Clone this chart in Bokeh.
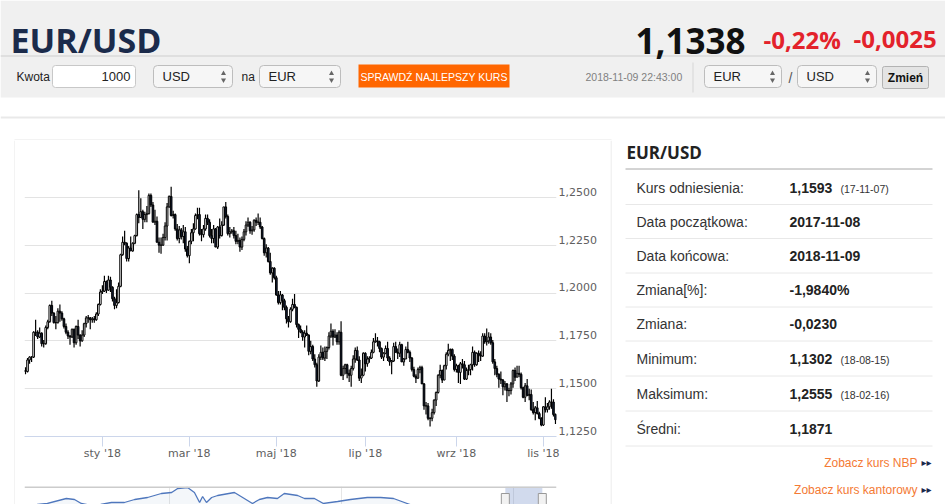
import numpy as np
import pandas as pd
from bokeh.plotting import figure
from bokeh.models import (Range1d, FixedTicker, CustomJSTickFormatter, Span,
                          ColumnDataSource, Grid)
from bokeh.layouts import column, row
from bokeh.core.properties import value
from bokeh.embed import file_html
from bokeh.resources import INLINE

# ---------------- header data ----------------
pair = "EUR/USD"
last_rate = "1,1338"
change_pct = "-0,22%"
change_abs = "-0,0025"
timestamp = "2018-11-09 22:43:00"
amount = "1000"
cur_from, cur_to = "USD", "EUR"
pair_a, pair_b = "EUR", "USD"

# ---------------- daily OHLC (one line per week), 2017-11-08 .. 2018-11-09 -------------
open_ = [
    1.1595, 1.1590, 1.1650,
    1.1665, 1.1665, 1.1795, 1.1795, 1.1770,
    1.1790, 1.1735, 1.1735, 1.1820, 1.1850,
    1.1935, 1.1895, 1.1845, 1.1845, 1.1905,
    1.1895, 1.1865, 1.1825, 1.1795, 1.1775,
    1.1770, 1.1810, 1.1740, 1.1825, 1.1780,
    1.1750, 1.1780, 1.1840, 1.1870, 1.1870,
    1.1860, 1.1865, 1.1860, 1.1890, 1.1940,
    1.2005, 1.2010, 1.2060, 1.2015, 1.2068,
    1.2030, 1.1970, 1.1935, 1.1950, 1.2035,
    1.2200, 1.2265, 1.2260, 1.2180, 1.2235,
    1.2220, 1.2260, 1.2300, 1.2410, 1.2395,
    1.2425, 1.2385, 1.2410, 1.2415, 1.2510,
    1.2460, 1.2370, 1.2375, 1.2265, 1.2250,
    1.2250, 1.2290, 1.2350, 1.2450, 1.2505,
    1.2405, 1.2410, 1.2335, 1.2285, 1.2330,
    1.2295, 1.2320, 1.2230, 1.2195, 1.2270,
    1.2315, 1.2335, 1.2405, 1.2410, 1.2310,
    1.2305, 1.2335, 1.2390, 1.2370, 1.2300,
    1.2285, 1.2335, 1.2240, 1.2345, 1.2300,
    1.2355, 1.2450, 1.2400, 1.2310, 1.2320,
    1.2325, 1.2300, 1.2270, 1.2275, 1.2240,
    1.2280, 1.2320, 1.2355, 1.2370, 1.2325,
    1.2330, 1.2380, 1.2370, 1.2370, 1.2345,
    1.2285, 1.2210, 1.2235, 1.2165, 1.2105,
    1.2130, 1.2080, 1.1990, 1.1950, 1.1990,
    1.1960, 1.1925, 1.1865, 1.1850, 1.1915,
    1.1940, 1.1925, 1.1835, 1.1810, 1.1795,
    1.1770, 1.1790, 1.1780, 1.1695, 1.1720,
    1.1655, 1.1625, 1.1540, 1.1665, 1.1690,
    1.1660, 1.1695, 1.1715, 1.1775, 1.1800,
    1.1770, 1.1780, 1.1745, 1.1795, 1.1570,
    1.1605, 1.1625, 1.1580, 1.1570, 1.1605,
    1.1655, 1.1700, 1.1650, 1.1555, 1.1570,
    1.1685, 1.1630, 1.1655, 1.1660, 1.1690,
    1.1745, 1.1750, 1.1745, 1.1710, 1.1665,
    1.1685, 1.1710, 1.1660, 1.1640, 1.1645,
    1.1720, 1.1690, 1.1685, 1.1730, 1.1640,
    1.1655, 1.1705, 1.1690, 1.1660, 1.1600,
    1.1565, 1.1555, 1.1600, 1.1610, 1.1525,
    1.1410, 1.1410, 1.1345, 1.1345, 1.1375,
    1.1440, 1.1480, 1.1570, 1.1595, 1.1545,
    1.1620, 1.1680, 1.1700, 1.1705, 1.1670,
    1.1600, 1.1620, 1.1585, 1.1630, 1.1625,
    1.1550, 1.1595, 1.1600, 1.1625, 1.1690,
    1.1625, 1.1685, 1.1675, 1.1670, 1.1775,
    1.1745, 1.1750, 1.1770, 1.1740, 1.1640,
    1.1605, 1.1575, 1.1550, 1.1545, 1.1510,
    1.1525, 1.1490, 1.1490, 1.1525, 1.1595,
    1.1560, 1.1580, 1.1575, 1.1505, 1.1455,
    1.1515, 1.1465, 1.1470, 1.1390, 1.1375,
    1.1400, 1.1370, 1.1345, 1.1310, 1.1405,
    1.1390, 1.1405, 1.1430, 1.1430, 1.1365,
]
high = [
    1.1612, 1.1660, 1.1670,
    1.1670, 1.1800, 1.1860, 1.1805, 1.1820,
    1.1795, 1.1755, 1.1830, 1.1860, 1.1940,
    1.1960, 1.1900, 1.1880, 1.1920, 1.1940,
    1.1905, 1.1870, 1.1840, 1.1805, 1.1780,
    1.1815, 1.1815, 1.1830, 1.1860, 1.1785,
    1.1805, 1.1845, 1.1880, 1.1885, 1.1875,
    1.1875, 1.1880, 1.1900, 1.1945, 1.2020,
    1.2040, 1.2090, 1.2065, 1.2090, 1.2085,
    1.2035, 1.1980, 1.2020, 1.2055, 1.2205,
    1.2295, 1.2325, 1.2265, 1.2245, 1.2295,
    1.2265, 1.2305, 1.2415, 1.2537, 1.2495,
    1.2435, 1.2425, 1.2455, 1.2520, 1.2520,
    1.2475, 1.2435, 1.2400, 1.2290, 1.2290,
    1.2310, 1.2370, 1.2470, 1.2510, 1.2555,
    1.2430, 1.2415, 1.2360, 1.2350, 1.2340,
    1.2355, 1.2345, 1.2245, 1.2275, 1.2335,
    1.2365, 1.2415, 1.2445, 1.2445, 1.2335,
    1.2355, 1.2410, 1.2410, 1.2385, 1.2335,
    1.2355, 1.2340, 1.2350, 1.2390, 1.2375,
    1.2450, 1.2475, 1.2410, 1.2345, 1.2335,
    1.2345, 1.2325, 1.2310, 1.2290, 1.2295,
    1.2335, 1.2375, 1.2395, 1.2375, 1.2350,
    1.2385, 1.2395, 1.2415, 1.2395, 1.2350,
    1.2290, 1.2255, 1.2240, 1.2210, 1.2135,
    1.2135, 1.2090, 1.2010, 1.2010, 1.1995,
    1.1970, 1.1935, 1.1880, 1.1925, 1.1970,
    1.1995, 1.1930, 1.1840, 1.1830, 1.1805,
    1.1805, 1.1830, 1.1785, 1.1750, 1.1730,
    1.1680, 1.1635, 1.1680, 1.1725, 1.1715,
    1.1720, 1.1720, 1.1795, 1.1840, 1.1810,
    1.1810, 1.1795, 1.1805, 1.1852, 1.1620,
    1.1630, 1.1630, 1.1600, 1.1620, 1.1675,
    1.1715, 1.1720, 1.1670, 1.1605, 1.1690,
    1.1690, 1.1670, 1.1670, 1.1705, 1.1765,
    1.1790, 1.1770, 1.1750, 1.1715, 1.1690,
    1.1725, 1.1745, 1.1670, 1.1650, 1.1740,
    1.1745, 1.1710, 1.1745, 1.1735, 1.1660,
    1.1720, 1.1745, 1.1700, 1.1665, 1.1615,
    1.1575, 1.1610, 1.1620, 1.1620, 1.1530,
    1.1430, 1.1425, 1.1350, 1.1395, 1.1445,
    1.1485, 1.1575, 1.1625, 1.1600, 1.1625,
    1.1690, 1.1735, 1.1710, 1.1710, 1.1680,
    1.1630, 1.1625, 1.1640, 1.1655, 1.1645,
    1.1610, 1.1625, 1.1630, 1.1720, 1.1700,
    1.1690, 1.1700, 1.1695, 1.1790, 1.1790,
    1.1815, 1.1795, 1.1790, 1.1755, 1.1655,
    1.1620, 1.1580, 1.1590, 1.1550, 1.1540,
    1.1530, 1.1505, 1.1535, 1.1600, 1.1610,
    1.1620, 1.1620, 1.1585, 1.1510, 1.1530,
    1.1550, 1.1500, 1.1495, 1.1430, 1.1410,
    1.1435, 1.1380, 1.1350, 1.1410, 1.1455,
    1.1425, 1.1440, 1.1500, 1.1445, 1.1370,
]
low = [
    1.1575, 1.1585, 1.1630,
    1.1640, 1.1660, 1.1775, 1.1760, 1.1765,
    1.1720, 1.1715, 1.1730, 1.1810, 1.1845,
    1.1880, 1.1840, 1.1810, 1.1840, 1.1850,
    1.1855, 1.1815, 1.1785, 1.1760, 1.1730,
    1.1765, 1.1715, 1.1730, 1.1760, 1.1720,
    1.1745, 1.1770, 1.1820, 1.1845, 1.1810,
    1.1845, 1.1845, 1.1855, 1.1880, 1.1935,
    1.1995, 1.2005, 1.2000, 1.2010, 1.2005,
    1.1955, 1.1915, 1.1920, 1.1945, 1.2030,
    1.2195, 1.2250, 1.2165, 1.2165, 1.2220,
    1.2215, 1.2255, 1.2295, 1.2365, 1.2395,
    1.2335, 1.2370, 1.2370, 1.2410, 1.2450,
    1.2370, 1.2355, 1.2265, 1.2210, 1.2205,
    1.2245, 1.2275, 1.2275, 1.2445, 1.2400,
    1.2390, 1.2325, 1.2275, 1.2260, 1.2280,
    1.2260, 1.2215, 1.2185, 1.2155, 1.2255,
    1.2270, 1.2330, 1.2385, 1.2300, 1.2270,
    1.2290, 1.2325, 1.2355, 1.2290, 1.2260,
    1.2260, 1.2240, 1.2230, 1.2285, 1.2295,
    1.2350, 1.2390, 1.2300, 1.2290, 1.2310,
    1.2285, 1.2255, 1.2255, 1.2215, 1.2225,
    1.2270, 1.2300, 1.2345, 1.2310, 1.2305,
    1.2320, 1.2350, 1.2355, 1.2335, 1.2280,
    1.2195, 1.2185, 1.2160, 1.2095, 1.2055,
    1.2070, 1.1985, 1.1940, 1.1940, 1.1910,
    1.1910, 1.1840, 1.1820, 1.1845, 1.1905,
    1.1920, 1.1820, 1.1765, 1.1790, 1.1750,
    1.1715, 1.1775, 1.1675, 1.1680, 1.1645,
    1.1610, 1.1510, 1.1535, 1.1650, 1.1650,
    1.1645, 1.1655, 1.1705, 1.1765, 1.1725,
    1.1765, 1.1730, 1.1730, 1.1565, 1.1545,
    1.1575, 1.1555, 1.1535, 1.1510, 1.1595,
    1.1635, 1.1645, 1.1540, 1.1530, 1.1565,
    1.1590, 1.1615, 1.1635, 1.1655, 1.1685,
    1.1740, 1.1720, 1.1690, 1.1655, 1.1645,
    1.1680, 1.1645, 1.1620, 1.1575, 1.1640,
    1.1690, 1.1655, 1.1665, 1.1640, 1.1620,
    1.1655, 1.1685, 1.1640, 1.1590, 1.1560,
    1.1530, 1.1550, 1.1580, 1.1525, 1.1390,
    1.1365, 1.1335, 1.1302, 1.1330, 1.1365,
    1.1410, 1.1475, 1.1555, 1.1530, 1.1545,
    1.1600, 1.1670, 1.1645, 1.1650, 1.1590,
    1.1585, 1.1530, 1.1525, 1.1605, 1.1545,
    1.1545, 1.1570, 1.1570, 1.1595, 1.1615,
    1.1620, 1.1640, 1.1645, 1.1665, 1.1735,
    1.1725, 1.1735, 1.1730, 1.1630, 1.1570,
    1.1560, 1.1505, 1.1525, 1.1465, 1.1490,
    1.1430, 1.1460, 1.1470, 1.1505, 1.1540,
    1.1560, 1.1560, 1.1495, 1.1450, 1.1430,
    1.1460, 1.1440, 1.1385, 1.1365, 1.1335,
    1.1365, 1.1340, 1.1303, 1.1305, 1.1375,
    1.1375, 1.1390, 1.1395, 1.1355, 1.1315,
]
close = [
    1.1590, 1.1650, 1.1665,
    1.1665, 1.1795, 1.1795, 1.1770, 1.1790,
    1.1735, 1.1735, 1.1820, 1.1850, 1.1935,
    1.1895, 1.1845, 1.1845, 1.1905, 1.1895,
    1.1865, 1.1825, 1.1795, 1.1775, 1.1770,
    1.1810, 1.1740, 1.1825, 1.1780, 1.1750,
    1.1780, 1.1840, 1.1870, 1.1870, 1.1860,
    1.1865, 1.1860, 1.1890, 1.1940, 1.2005,
    1.2010, 1.2060, 1.2015, 1.2068, 1.2030,
    1.1970, 1.1935, 1.1950, 1.2035, 1.2200,
    1.2265, 1.2260, 1.2180, 1.2235, 1.2220,
    1.2260, 1.2300, 1.2410, 1.2395, 1.2425,
    1.2385, 1.2410, 1.2415, 1.2510, 1.2460,
    1.2370, 1.2375, 1.2265, 1.2250, 1.2250,
    1.2290, 1.2350, 1.2450, 1.2505, 1.2405,
    1.2410, 1.2335, 1.2285, 1.2330, 1.2295,
    1.2320, 1.2230, 1.2195, 1.2270, 1.2315,
    1.2335, 1.2405, 1.2410, 1.2310, 1.2305,
    1.2335, 1.2390, 1.2370, 1.2300, 1.2285,
    1.2335, 1.2240, 1.2345, 1.2300, 1.2355,
    1.2450, 1.2400, 1.2310, 1.2320, 1.2325,
    1.2300, 1.2270, 1.2275, 1.2240, 1.2280,
    1.2320, 1.2355, 1.2370, 1.2325, 1.2330,
    1.2380, 1.2370, 1.2370, 1.2345, 1.2285,
    1.2210, 1.2235, 1.2165, 1.2105, 1.2130,
    1.2080, 1.1990, 1.1950, 1.1990, 1.1960,
    1.1925, 1.1865, 1.1850, 1.1915, 1.1940,
    1.1925, 1.1835, 1.1810, 1.1795, 1.1770,
    1.1790, 1.1780, 1.1695, 1.1720, 1.1655,
    1.1625, 1.1540, 1.1665, 1.1690, 1.1660,
    1.1695, 1.1715, 1.1775, 1.1800, 1.1770,
    1.1780, 1.1745, 1.1795, 1.1570, 1.1605,
    1.1625, 1.1580, 1.1570, 1.1605, 1.1655,
    1.1700, 1.1650, 1.1555, 1.1570, 1.1685,
    1.1630, 1.1655, 1.1660, 1.1690, 1.1745,
    1.1750, 1.1745, 1.1710, 1.1665, 1.1685,
    1.1710, 1.1660, 1.1640, 1.1645, 1.1720,
    1.1690, 1.1685, 1.1730, 1.1640, 1.1655,
    1.1705, 1.1690, 1.1660, 1.1600, 1.1565,
    1.1555, 1.1600, 1.1610, 1.1525, 1.1410,
    1.1410, 1.1345, 1.1345, 1.1375, 1.1440,
    1.1480, 1.1570, 1.1595, 1.1545, 1.1620,
    1.1680, 1.1700, 1.1705, 1.1670, 1.1600,
    1.1620, 1.1585, 1.1630, 1.1625, 1.1550,
    1.1595, 1.1600, 1.1625, 1.1690, 1.1625,
    1.1685, 1.1675, 1.1670, 1.1775, 1.1745,
    1.1750, 1.1770, 1.1740, 1.1640, 1.1605,
    1.1575, 1.1550, 1.1545, 1.1510, 1.1525,
    1.1490, 1.1490, 1.1525, 1.1595, 1.1560,
    1.1580, 1.1575, 1.1505, 1.1455, 1.1515,
    1.1465, 1.1470, 1.1390, 1.1375, 1.1400,
    1.1370, 1.1345, 1.1310, 1.1405, 1.1390,
    1.1405, 1.1430, 1.1430, 1.1365, 1.1338,
]

y_tick_values = [1.125, 1.150, 1.175, 1.200, 1.225, 1.250]
y_grid_values = [1.150, 1.175, 1.200, 1.225, 1.250, 1.275]
x_tick_months = ["2018-01", "2018-03", "2018-05", "2018-07", "2018-09", "2018-11"]
x_tick_labels = ["sty '18", "mar '18", "maj '18", "lip '18", "wrz '18", "lis '18"]

# ---------------- navigator (long history, only its upper strip is visible) -------------
nav_year = [2004.63, 2004.93, 2005.16, 2005.60, 2005.79, 2005.95, 2006.19, 2006.40, 2006.65,
            2006.95, 2007.19, 2007.49, 2007.81, 2008.05, 2008.19, 2008.42, 2008.58, 2008.70,
            2008.77, 2008.86, 2008.98, 2009.12, 2009.51, 2009.74, 2009.93, 2010.09, 2010.28,
            2010.51, 2010.67, 2010.98, 2011.14, 2011.37, 2011.58, 2011.91, 2012.21, 2012.60,
            2012.91, 2013.21, 2013.53, 2013.84, 2015.00, 2016.00, 2017.00]
nav_rate = [1.300, 1.348, 1.362, 1.432, 1.418, 1.362, 1.334, 1.348, 1.376,
            1.376, 1.418, 1.446, 1.502, 1.516, 1.572, 1.586, 1.516, 1.376,
            1.460, 1.376, 1.446, 1.474, 1.516, 1.432, 1.362, 1.418, 1.446,
            1.432, 1.502, 1.474, 1.432, 1.432, 1.362, 1.390, 1.418, 1.446,
            1.446, 1.432, 1.362, 1.292, 1.220, 1.250, 1.194]
nav_grid_years = [2008, 2012, 2016]
nav_window = [2015.81, 2016.67]

# ---------------- side panel data ----------------
stat_labels = ["Kurs odniesienia:", "Data początkowa:", "Data końcowa:", "Zmiana[%]:",
               "Zmiana:", "Minimum:", "Maksimum:", "Średni:"]
stat_values = ["1,1593", "2017-11-08", "2018-11-09", "-1,9840%", "-0,0230",
               "1,1302", "1,2555", "1,1871"]
stat_notes = ["(17-11-07)", "", "", "", "", "(18-08-15)", "(18-02-16)", ""]
links = ["Zobacz kurs NBP", "Zobacz kurs kantorowy"]

ARIAL = "Liberation Sans"
OPEN = "Open Sans"


def canvas(x0, x1, y0, y1, bg="white"):
    p = figure(width=x1 - x0, height=y1 - y0, x_range=Range1d(x0, x1), y_range=Range1d(y1, y0),
               output_backend="svg", toolbar_location=None, x_axis_location=None,
               y_axis_location=None, min_border=0)
    p.grid.visible = False
    p.outline_line_color = None
    p.background_fill_color = bg
    p.border_fill_color = bg
    return p


def txt(p, x, y, s, size, color="#333333", font=ARIAL, style="normal", align="left",
        baseline="middle"):
    p.text(x=[x], y=[y], text=[s], text_font=value(font), text_font_size=f"{size}px",
           text_font_style=style, text_color=color, text_align=align, text_baseline=baseline)


def select_box(p, x0, x1, label):
    p.quad(left=[x0], right=[x1], top=[65], bottom=[87], fill_color="#f6f6f6",
           line_color="#bdbdbd", border_radius=4)
    txt(p, x0 + 9, 76, label, 13, "#222222")
    p.scatter(x=[x1 - 9], y=[73], marker="triangle", size=5, fill_color="#666666", line_color=None)
    p.scatter(x=[x1 - 9], y=[79.5], marker="inverted_triangle", size=5, fill_color="#666666",
              line_color=None)


# ---------------- header ----------------
hdr = canvas(0, 945, 0, 140)
hdr.quad(left=[0], right=[945], top=[0], bottom=[97], fill_color="#f0f0f0", line_color=None)
hdr.segment(x0=[0], y0=[55.5], x1=[945], y1=[55.5], line_color="#dadada", line_width=1.5)
hdr.segment(x0=[0], y0=[117], x1=[945], y1=[117], line_color="#e9e9e9", line_width=2)
hdr.segment(x0=[14], y0=[139.5], x1=[611], y1=[139.5], line_color="#e6e6e6", line_width=1)
txt(hdr, 10, 39, pair, 34, "#1b2b4b", OPEN, "bold", baseline="alphabetic")
txt(hdr, 635, 40, last_rate, 35, "#111111", OPEN, "bold", baseline="alphabetic")
txt(hdr, 763, 39, change_pct, 24, "#e3222b", OPEN, "bold", baseline="alphabetic")
txt(hdr, 853, 39, change_abs, 24, "#e3222b", OPEN, "bold", baseline="alphabetic")

txt(hdr, 16, 76, "Kwota", 12, "#222222")
hdr.quad(left=[52], right=[135], top=[65], bottom=[87], fill_color="white",
         line_color="#c8c8c8", border_radius=3)
txt(hdr, 130, 76, amount, 13, "#222222", align="right")
select_box(hdr, 153, 232, cur_from)
txt(hdr, 241, 76, "na", 12, "#222222")
select_box(hdr, 259, 340, cur_to)
hdr.quad(left=[358], right=[509], top=[64], bottom=[87], fill_color="#ff6600", line_color=None)
txt(hdr, 433.5, 76, "SPRAWDŹ NAJLEPSZY KURS", 10.5, "white", align="center")
txt(hdr, 585, 76, timestamp, 10.5, "#808080")
hdr.segment(x0=[692.5], y0=[62], x1=[692.5], y1=[92], line_color="#d6d6d6")
select_box(hdr, 704, 781, pair_a)
txt(hdr, 790, 77, "/", 14, "#555555", align="center")
select_box(hdr, 797, 876, pair_b)
hdr.quad(left=[882], right=[928], top=[66], bottom=[88], fill_color="#e4e4e4",
         line_color="#b3b3b3", border_radius=2)
txt(hdr, 905, 77, "Zmień", 12, "#111111", style="bold", align="center")

# ---------------- left border strip ----------------
strip = canvas(0, 15, 140, 504)
strip.segment(x0=[14.5], y0=[140], x1=[14.5], y1=[504], line_color="#e6e6e6")

# ---------------- main candlestick chart ----------------
n = min(len(open_), len(high), len(low), len(close))
dates = pd.bdate_range("2017-11-08", "2018-11-09")[:n]
idx = np.arange(n)
o = np.array(open_[:n]); h = np.array(high[:n]); l = np.array(low[:n]); c = np.array(close[:n])
src = ColumnDataSource(dict(x=idx, o=o, h=h, l=l, c=c, top=np.maximum(o, c), bot=np.minimum(o, c),
                            fill=np.where(c >= o, "#ffffff", "#14213d")))

chart = figure(width=595, height=330, x_range=Range1d(-0.5, n - 0.5),
               y_range=Range1d(1.125, 1.275), output_backend="svg", toolbar_location=None,
               y_axis_location="right", min_border_left=9, min_border_right=54,
               min_border_top=9, min_border_bottom=34)
chart.outline_line_color = None
chart.background_fill_color = "white"
chart.border_fill_color = "white"
chart.xgrid.visible = False
chart.ygrid.ticker = FixedTicker(ticks=y_grid_values)
chart.ygrid.grid_line_color = "#e3e3e3"

LABEL_SHIFT = 0.0029  # labels sit just above their grid lines
ya = chart.yaxis[0]
ya.ticker = FixedTicker(ticks=[v + LABEL_SHIFT for v in y_tick_values])
ya.formatter = CustomJSTickFormatter(args=dict(off=LABEL_SHIFT),
                                     code="return (tick - off).toFixed(4).replace('.', ',');")
ya.axis_line_color = None
ya.major_tick_line_color = None
ya.minor_tick_line_color = None
ya.major_tick_in = 0
ya.major_tick_out = 0
ya.minor_tick_in = 0
ya.minor_tick_out = 0
ya.major_label_standoff = 2
ya.major_label_text_font = "DejaVu Sans"
ya.major_label_text_font_size = "11px"
ya.major_label_text_color = "#606060"

tick_idx = [int(np.argmax(dates.strftime("%Y-%m") == m)) for m in x_tick_months]
xa = chart.xaxis[0]
xa.ticker = FixedTicker(ticks=tick_idx)
xa.major_label_overrides = {i: lab for i, lab in zip(tick_idx, x_tick_labels)}
xa.axis_line_color = "#ccd6eb"
xa.major_tick_line_color = "#ccd6eb"
xa.major_tick_in = 0
xa.major_tick_out = 10
xa.minor_tick_line_color = None
xa.major_label_standoff = 0
xa.major_label_text_font = "DejaVu Sans"
xa.major_label_text_font_size = "11px"
xa.major_label_text_color = "#606060"

chart.segment(x0="x", y0="l", x1="x", y1="h", source=src, line_color="#000000", line_width=1.2)
chart.vbar(x="x", width=0.8, top="top", bottom="bot", fill_color="fill", line_color="#000000",
           line_width=1, source=src)

# ---------------- navigator ----------------
NAV_TOP, NAV_BOT = 1.600, 1.348
nav = figure(width=595, height=34, x_range=Range1d(2004.628, 2017.0),
             y_range=Range1d(NAV_BOT, NAV_TOP), output_backend="svg", toolbar_location=None,
             x_axis_location=None, y_axis_location=None, min_border_left=9,
             min_border_right=54, min_border_top=16, min_border_bottom=0)
nav.grid.visible = False
nav.outline_line_color = None
nav.background_fill_color = "white"
nav.border_fill_color = "white"
nav.add_layout(Grid(dimension=0, ticker=FixedTicker(ticks=nav_grid_years),
                    grid_line_color="#e6e6e6"))
nav.varea(x=nav_year, y1=[NAV_BOT - 0.2] * len(nav_year), y2=nav_rate,
          fill_color="#4572a7", fill_alpha=0.06)
nav.line(x=nav_year, y=nav_rate, line_color="#4f77bd", line_width=1.3)
nav.quad(left=[nav_window[0]], right=[nav_window[1]], bottom=[NAV_BOT - 0.2], top=[NAV_TOP],
         fill_color="#6685c2", fill_alpha=0.3, line_color=None)
nav.add_layout(Span(location=NAV_TOP - 0.008, dimension="width", line_color="#cccccc",
                    line_width=2))
nav.rect(x=nav_window, y=[NAV_TOP - 14.5 * 0.014] * 2, width=8, height=15,
         width_units="screen", height_units="screen", fill_color="#f2f2f2", line_color="#999999")

# ---------------- side panel ----------------
side = canvas(610, 945, 140, 504)
side.segment(x0=[610.5], y0=[140], x1=[610.5], y1=[504], line_color="#e6e6e6")
txt(side, 626, 152, pair, 17, "#222222", OPEN, "bold")
side.segment(x0=[625], y0=[168.5], x1=[932], y1=[168.5], line_color="#a8a8a8")
row_y = [187, 221, 255, 289, 323, 358, 393, 428]
sep_y = [204, 238, 272.5, 306.5, 340.5, 375.5, 410.5, 445.5]
for i, lab in enumerate(stat_labels):
    txt(side, 636, row_y[i], lab, 14, "#333333")
    txt(side, 789, row_y[i], stat_values[i], 14, "#222222", style="bold")
    if stat_notes[i]:
        txt(side, 840, row_y[i] + 1, stat_notes[i], 10.5, "#333333")
side.segment(x0=[625] * len(sep_y), y0=sep_y, x1=[932] * len(sep_y), y1=sep_y,
             line_color="#e8e8e8")
for yy, s in zip([462, 489], links):
    txt(side, 917, yy, s, 12, "#f47a34", align="right")
    txt(side, 921, yy, "▸▸", 10, "#1b2b4b", "DejaVu Sans")

layout = column(hdr, row(strip, column(chart, nav), side))
open("out.html", "w").write(file_html(layout, INLINE))
